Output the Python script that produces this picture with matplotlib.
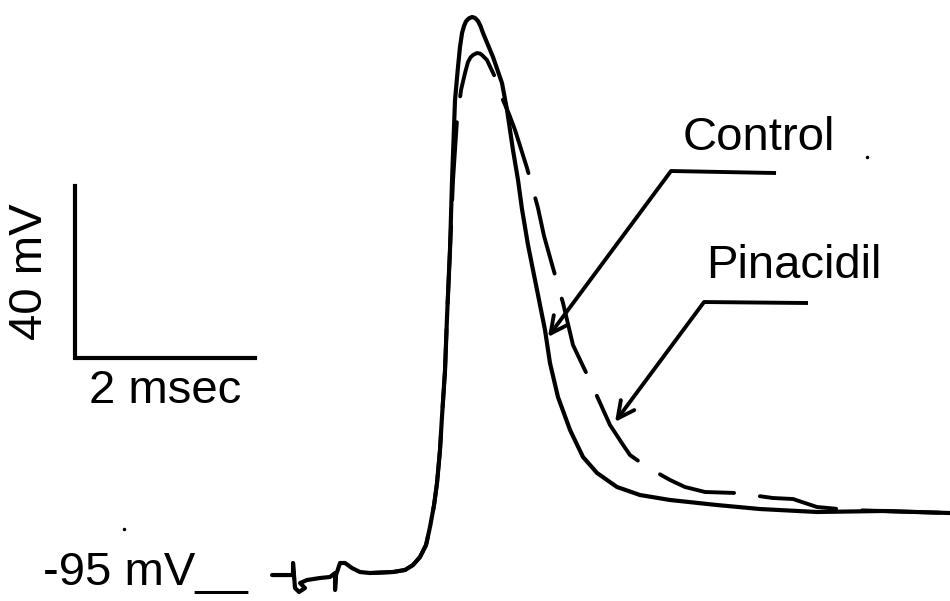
import matplotlib.pyplot as plt
import numpy as np

plt.rcParams['font.family'] = ['Liberation Sans', 'DejaVu Sans']

# control trace (ms, mV), including the stimulus artifact at the start
control_t = [-0.144, 0.089, 0.089, 0.111, 0.156, 0.222, 0.167, 0.244, 0.389, 0.5,
             0.556, 0.556, 0.567, 0.611, 0.667, 0.744, 0.833, 0.944, 1.2, 1.333,
             1.422, 1.5, 1.567, 1.611, 1.656, 1.689, 1.722, 1.744, 1.778, 1.8,
             1.833, 1.856, 1.889, 1.922, 1.944, 1.967, 1.989, 2.011, 2.044, 2.078,
             2.111, 2.144, 2.172, 2.2, 2.311,
             2.411, 2.467, 2.533, 2.589, 2.633, 2.7, 2.778, 2.889, 2.944, 3.033,
             3.167, 3.311, 3.467, 3.689, 3.944, 4.278, 4.8, 5.278,
             5.911, 6.644, 7.389]
control_v = [-95.47, -95.47, -92.67, -98.49, -99.42, -98.49, -97.33, -96.63, -96.16, -95.93,
             -95.0, -98.95, -95.47, -92.67, -92.67, -93.84, -94.77, -95.0, -94.77, -94.3,
             -93.14, -91.28, -88.49, -84.3, -79.19, -74.07, -66.4, -58.72, -47.79, -35.47,
             -19.88, -3.6, 15.0, 22.67, 27.3, 30.58, 32.2, 33.3, 34.0, 34.3,
             34.1, 33.37, 32.2, 30.58, 25.0,
             18.95, 12.67, 3.37, -3.6, -10.35, -18.72, -26.86, -38.49, -46.16, -54.07,
             -61.74, -68.02, -71.74, -75.0, -76.86, -78.02, -79.19, -80.12,
             -80.81, -80.58, -81.05]

# pinacidil trace (ms, mV)
pina_t = [0.944, 1.2, 1.333, 1.422, 1.5, 1.567, 1.611, 1.656, 1.689, 1.722,
          1.744, 1.778, 1.8, 1.833, 1.867, 1.911, 1.956, 2.0, 2.033, 2.061, 2.089,
          2.133, 2.167, 2.189, 2.244, 2.333, 2.422, 2.489, 2.556, 2.689, 2.811, 2.878,
          2.978, 3.089, 3.2, 3.411, 3.611, 3.756, 3.833, 4.022, 4.278, 4.444,
          4.667, 5.022, 5.422, 5.644, 5.911, 6.278, 6.644, 7.389]
pina_v = [-95.0, -94.77, -94.3, -93.14, -91.28, -88.49, -84.3, -79.19, -74.07, -66.4,
          -58.72, -47.79, -35.47, -19.88, -3.6, 10.35, 17.33, 21.28, 23.84, 24.9, 25.47,
          25.93, 25.8, 25.47, 24.3, 20.35, 15.0, 11.74, 8.02, -0.81, -10.12, -16.63,
          -24.07, -32.21, -41.98, -51.28, -60.58, -65.2, -67.56, -70.35, -73.37, -75.0,
          -76.16, -76.4, -77.56, -77.79, -79.65, -80.35, -80.58, -81.05]

resting_mv = -95
bar_t = [-2.333, -0.333]   # 2 msec
bar_v = [-45, -5]          # 40 mV

fig = plt.figure(figsize=(9.5, 6.01), dpi=100)
ax = fig.add_axes([0, 0, 1, 1])
ax.set_xlim(-3.167, 7.389)
ax.set_ylim(-101.51, 38.26)
ax.axis('off')

ax.plot(pina_t, pina_v, color='black', lw=2.8, dashes=(20, 6.7),
        dash_capstyle='round', dash_joinstyle='round')
ax.plot(control_t, control_v, color='black', lw=3.0, solid_joinstyle='round',
        solid_capstyle='round')

# scale bars
ax.plot([bar_t[0], bar_t[0], bar_t[1]], [bar_v[1], bar_v[0], bar_v[0]],
        color='black', lw=3.0, solid_joinstyle='miter')
ax.text(-2.7, (bar_v[0] + bar_v[1]) / 2, '40 mV', rotation=90, rotation_mode='anchor',
        ha='center', va='baseline', fontsize=34)
ax.text((bar_t[0] + bar_t[1]) / 2, -55.5, '2 msec', ha='center', va='baseline', fontsize=34)
ax.text(-2.689, -97.8, '%d mV__' % resting_mv, ha='left', va='baseline', fontsize=34)

# labels with leader arrows
labels = [('Control', (4.422, 3.37), (4.289, -1.51), (5.456, -1.98), (2.922, -40.12)),
          ('Pinacidil', (4.678, -26.4), (4.656, -31.98), (5.811, -32.21), (3.667, -59.88))]
for name, txt, start, end, tip in labels:
    ax.text(txt[0], txt[1], name, ha='left', va='baseline', fontsize=34)
    ax.plot([start[0], end[0]], [start[1], end[1]], color='black', lw=2.8,
            solid_capstyle='butt')
    ax.annotate('', xy=tip, xytext=start,
                arrowprops=dict(arrowstyle='->', lw=2.8, color='black',
                                mutation_scale=30, shrinkA=0, shrinkB=0))

# stray specks
ax.plot([6.467, -1.789], [1.74, -84.77], 'k.', markersize=3)

fig.savefig('out.png', dpi=100)
